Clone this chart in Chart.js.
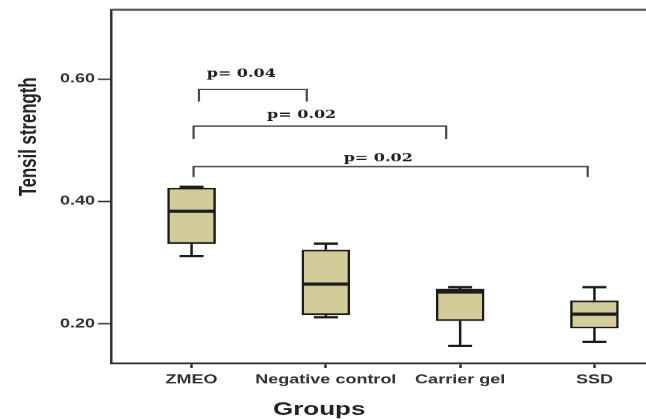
<!DOCTYPE html>
<html>
<head>
<meta charset="utf-8">
<script src="https://cdn.jsdelivr.net/npm/chart.js@4"></script>
<style>
  html, body { margin: 0; padding: 0; background: #fff; overflow: hidden; }
</style>
</head>
<body>
<!-- drawn tall, then squashed a bit like the source figure -->
<canvas id="chart" width="680" height="600" style="display:block;width:680px;height:419px;"></canvas>
<script>
"use strict";

// 1: data
let groups = ['ZMEO', 'Negative control', 'Carrier gel', 'SSD'];
let mins = [0.311, 0.211, 0.164, 0.171];
let q1s = [0.331, 0.215, 0.205, 0.193];
let medians = [0.384, 0.265, 0.252, 0.216];
let q3s = [0.422, 0.321, 0.257, 0.238];
let maxs = [0.424, 0.331, 0.260, 0.260];
let yTicks = [0.20, 0.40, 0.60];

// comparisons drawn as brackets above the boxes
let pLabels = ['p= 0.04', 'p= 0.02', 'p= 0.02'];
let pFrom = [1.055, 1.015, 1.015];
let pTo = [1.858, 2.896, 3.95];
let pLevel = [0.583, 0.523, 0.457];
let pFoot = [0.563, 0.502, 0.440];
let pTextX = [1.37, 1.82, 2.39];
let pTextY = [0.603, 0.536, 0.466];

// 2: whiskers, medians, brackets and titles on top of the bars
const boxExtras = {
  id: 'boxExtras',
  afterDatasetsDraw(chart) {
    const { ctx, chartArea, scales: { x, y } } = chart;
    ctx.save();

    // top of the frame
    ctx.strokeStyle = '#555';
    ctx.lineWidth = 3;
    ctx.beginPath();
    ctx.moveTo(chartArea.left, chartArea.top);
    ctx.lineTo(chartArea.right, chartArea.top);
    ctx.stroke();

    // whiskers + medians
    ctx.strokeStyle = '#1c1c1c';
    groups.forEach((g, i) => {
      const cx = x.getPixelForValue(i + 1);
      ctx.lineWidth = 2.5;
      ctx.beginPath();
      ctx.moveTo(cx, y.getPixelForValue(q3s[i]));
      ctx.lineTo(cx, y.getPixelForValue(maxs[i]));
      ctx.moveTo(cx, y.getPixelForValue(q1s[i]));
      ctx.lineTo(cx, y.getPixelForValue(mins[i]));
      ctx.stroke();
      ctx.lineWidth = 3.3;
      ctx.beginPath();
      ctx.moveTo(cx - 12, y.getPixelForValue(maxs[i]));
      ctx.lineTo(cx + 12, y.getPixelForValue(maxs[i]));
      ctx.moveTo(cx - 12, y.getPixelForValue(mins[i]));
      ctx.lineTo(cx + 12, y.getPixelForValue(mins[i]));
      ctx.stroke();
      ctx.lineWidth = 4.5;
      ctx.beginPath();
      ctx.moveTo(cx - 23, y.getPixelForValue(medians[i]));
      ctx.lineTo(cx + 23, y.getPixelForValue(medians[i]));
      ctx.stroke();
    });

    // brackets
    ctx.strokeStyle = '#4a4a4a';
    ctx.lineWidth = 2.2;
    pLabels.forEach((label, i) => {
      const x0 = x.getPixelForValue(pFrom[i]);
      const x1 = x.getPixelForValue(pTo[i]);
      const yl = y.getPixelForValue(pLevel[i]);
      const yf = y.getPixelForValue(pFoot[i]);
      ctx.beginPath();
      ctx.moveTo(x0, yf);
      ctx.lineTo(x0, yl);
      ctx.lineTo(x1, yl);
      ctx.lineTo(x1, yf);
      ctx.stroke();
    });
    ctx.fillStyle = '#1e1e1e';
    ctx.font = 'bold 16px "DejaVu Serif"';
    ctx.textAlign = 'center';
    ctx.textBaseline = 'alphabetic';
    pLabels.forEach((label, i) => {
      ctx.fillText(label, x.getPixelForValue(pTextX[i]), y.getPixelForValue(pTextY[i]));
    });

    // axis titles
    ctx.fillStyle = '#222';
    ctx.font = 'bold 26px "Liberation Sans"';
    ctx.fillText('Groups', x.getPixelForValue(1.95), 594);
    ctx.translate(36, 196);
    ctx.rotate(-Math.PI / 2);
    ctx.font = 'bold 24px "Liberation Sans"';
    ctx.fillText('Tensil strength', 0, 0);
    ctx.restore();
  }
};

// 3: build the chart
function appendChart() {
  let canvas = document.getElementById('chart');
  let tickFont = { family: 'Liberation Sans', size: 18, weight: 'bold' };
  new Chart(canvas, {
    type: 'bar',
    data: {
      datasets: [{
        data: groups.map((g, i) => ({ x: i + 1, y: [q1s[i], q3s[i]] })),
        backgroundColor: '#d3cb98',
        borderColor: '#1c1c1c',
        borderWidth: 2.5,
        borderSkipped: false,
        barThickness: 48
      }]
    },
    options: {
      responsive: false,
      animation: false,
      layout: { padding: { top: 14, right: 5, bottom: 0, left: 0 } },
      plugins: { legend: { display: false }, tooltip: { enabled: false } },
      scales: {
        x: {
          type: 'linear',
          offset: false,
          min: 0.4,
          max: 4.6,
          afterBuildTicks: (scale) => { scale.ticks = groups.map((g, i) => ({ value: i + 1 })); },
          afterFit: (scale) => { scale.height = 80; },
          ticks: {
            callback: (v) => groups[v - 1],
            autoSkip: false,
            maxRotation: 0,
            padding: 6,
            color: '#333',
            font: tickFont
          },
          grid: { drawOnChartArea: false, offset: false, tickLength: 7, tickWidth: 2.5, tickColor: '#333' },
          border: { color: '#333', width: 2.5 }
        },
        y: {
          min: 0.136,
          max: 0.713,
          afterBuildTicks: (scale) => { scale.ticks = yTicks.map(v => ({ value: v })); },
          afterFit: (scale) => { scale.width = 111; },
          ticks: {
            callback: (v) => v.toFixed(2),
            padding: 3,
            color: '#333',
            font: tickFont
          },
          grid: { drawOnChartArea: false, tickLength: 13, tickWidth: 2, tickColor: '#333' },
          border: { color: '#333', width: 2.5 }
        }
      }
    },
    plugins: [boxExtras]
  });
}

appendChart();
</script>
</body>
</html>
